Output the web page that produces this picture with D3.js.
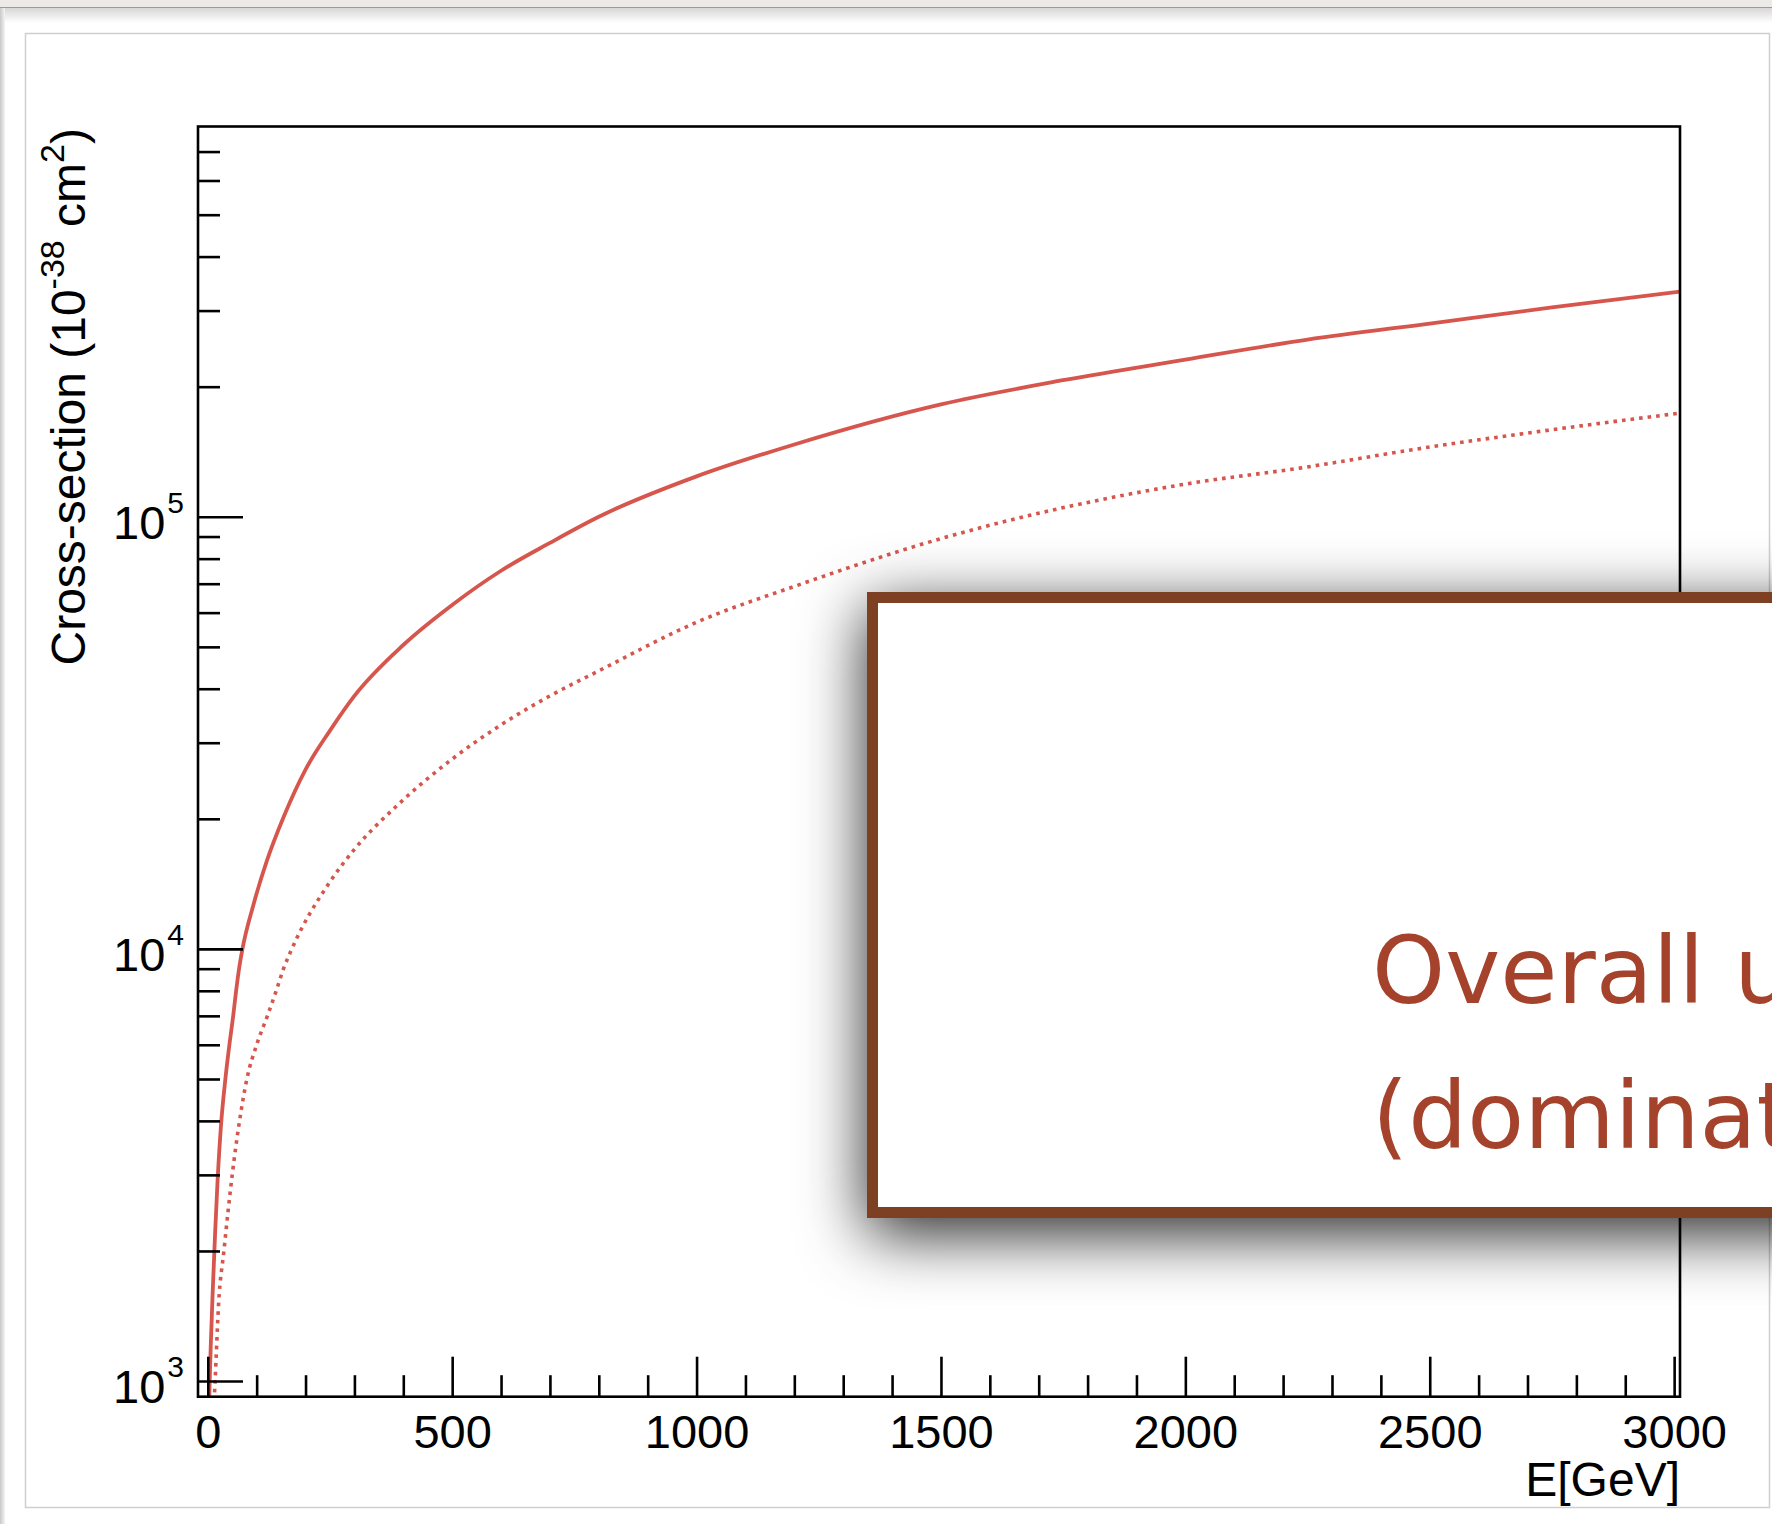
<!DOCTYPE html>
<html>
<head>
<meta charset="utf-8">
<script src="https://cdn.jsdelivr.net/npm/d3@7"></script>
<style>
  html, body { margin: 0; padding: 0; background: #fff; overflow: hidden; }
  svg { display: block; }
  .axis text { font-family: "Liberation Sans", Arial, Helvetica, sans-serif; }
</style>
</head>
<body>
<svg id="chart" width="1772" height="1524"></svg>
<script>
// values: energy in GeV, cross-section in 1e-38 cm^2
var energySolid = [3, 6, 10, 15, 20, 27, 36, 45, 52, 58, 64, 71, 93, 121, 156, 200, 250, 300, 400, 500,
                   600, 700, 800, 1000, 1200, 1500, 1750, 2000, 2250, 2500, 2750, 3012];
var xsecSolid   = [920, 1200, 1600, 2200, 2900, 3900, 5000, 6100, 7000, 8000, 9000, 10000, 12600, 16000, 20300, 26000, 32000, 38500, 50500, 62500,
                   75000, 87000, 100000, 124000, 147000, 182000, 207000, 231000, 257000, 280000, 305000, 332000];

var energyDotted = [13, 15, 22, 33, 50, 65, 80, 100, 122, 140, 155, 172, 250, 300, 388, 500,
                    600, 700, 800, 1000, 1200, 1500, 2000, 2234, 2500, 2750, 3012];
var xsecDotted   = [900, 1000, 1500, 2000, 3000, 4000, 5000, 6000, 7000, 8000, 9000, 10000, 14300, 17000, 21500, 27500,
                    33000, 38500, 44000, 57000, 69000, 89000, 119000, 129600, 145000, 159000, 173700];

var xMajor = [0, 500, 1000, 1500, 2000, 2500, 3000];
var xMinor = d3.range(100, 3001, 100).filter(function (v) { return v % 500 != 0; });
var yDecades = [1000, 10000, 100000];
var yExponents = ["3", "4", "5"];
var yMinor = [2e3, 3e3, 4e3, 5e3, 6e3, 7e3, 8e3, 9e3, 2e4, 3e4, 4e4, 5e4, 6e4, 7e4, 8e4, 9e4, 2e5, 3e5, 4e5, 5e5, 6e5, 7e5];

var xTitle = "E[GeV]";
var boxLines = ["Overall u", "(dominat"];

var svg = d3.select("#chart");
var W = 1772, H = 1524;

var frame = {left: 198, right: 1680, top: 126.5, bottom: 1396.7};

var x = d3.scaleLinear().domain([-20, 3012]).range([frame.left, frame.right]);
var y = d3.scaleLog().domain([920, 8.0e5]).range([frame.bottom, frame.top]);

var defs = svg.append("defs");

// window chrome gradients
var topGrad = defs.append("linearGradient").attr("id", "topGrad").attr("x1", 0).attr("y1", 0).attr("x2", 0).attr("y2", 1);
topGrad.append("stop").attr("offset", "0%").attr("stop-color", "#d4d4d4");
topGrad.append("stop").attr("offset", "100%").attr("stop-color", "#ffffff");
var leftGrad = defs.append("linearGradient").attr("id", "leftGrad").attr("x1", 0).attr("y1", 0).attr("x2", 1).attr("y2", 0);
leftGrad.append("stop").attr("offset", "0%").attr("stop-color", "#c8c8c8");
leftGrad.append("stop").attr("offset", "100%").attr("stop-color", "#f4f4f4");

defs.append("clipPath").attr("id", "plotClip")
    .append("rect")
    .attr("x", frame.left).attr("y", frame.top)
    .attr("width", frame.right - frame.left).attr("height", frame.bottom - frame.top);

var shadow = defs.append("filter").attr("id", "boxShadow")
    .attr("filterUnits", "userSpaceOnUse")
    .attr("x", 650).attr("y", 400).attr("width", 1300).attr("height", 1050);
shadow.append("feDropShadow")
    .attr("dx", 0).attr("dy", 16)
    .attr("stdDeviation", 32)
    .attr("flood-color", "#000").attr("flood-opacity", 0.85);

// window chrome
svg.append("rect").attr("x", 0).attr("y", 0).attr("width", W).attr("height", H).attr("fill", "#fff");
svg.append("rect").attr("x", 0).attr("y", 0).attr("width", W).attr("height", 7).attr("fill", "#ebeae6");
svg.append("rect").attr("x", 0).attr("y", 7).attr("width", W).attr("height", 16).attr("fill", "url(#topGrad)");
svg.append("line").attr("x1", 0).attr("x2", W).attr("y1", 7.5).attr("y2", 7.5).attr("stroke", "#9a9a9a").attr("stroke-width", 1.2);
svg.append("rect").attr("x", 0).attr("y", 8).attr("width", 5).attr("height", H - 8).attr("fill", "url(#leftGrad)");

// canvas
svg.append("rect")
    .attr("x", 25.5).attr("y", 33.5)
    .attr("width", 1769.5 - 25.5).attr("height", 1507.5 - 33.5)
    .attr("fill", "#fff").attr("stroke", "#cfcfcf").attr("stroke-width", 1.5);

// curves
var line = d3.line()
    .x(function (d) { return x(d[0]); })
    .y(function (d) { return y(d[1]); })
    .curve(d3.curveMonotoneX);

var plot = svg.append("g").attr("clip-path", "url(#plotClip)");

plot.append("path")
    .datum(d3.zip(energyDotted, xsecDotted))
    .attr("d", line)
    .attr("fill", "none")
    .attr("stroke", "#d6564d")
    .attr("stroke-width", 3.6)
    .attr("stroke-dasharray", "3.6,5");

plot.append("path")
    .datum(d3.zip(energySolid, xsecSolid))
    .attr("d", line)
    .attr("fill", "none")
    .attr("stroke", "#d6564d")
    .attr("stroke-width", 3.8);

// x axis ticks (inside, pointing up)
var xAxisMajor = d3.axisBottom(x).tickValues(xMajor).tickSize(-40).tickPadding(18)
    .tickFormat(d3.format("d"));
var gx = svg.append("g").attr("class", "axis")
    .attr("transform", "translate(0," + frame.bottom + ")")
    .call(xAxisMajor);
gx.select(".domain").remove();
gx.selectAll(".tick line").attr("stroke", "#000").attr("stroke-width", 2.6);
gx.selectAll(".tick text").attr("font-size", 47).attr("fill", "#000");

var gxMinor = svg.append("g")
    .attr("transform", "translate(0," + frame.bottom + ")")
    .call(d3.axisBottom(x).tickValues(xMinor).tickSize(-21.5).tickFormat(""));
gxMinor.select(".domain").remove();
gxMinor.selectAll(".tick line").attr("stroke", "#000").attr("stroke-width", 2.6);

// y axis ticks (inside, pointing right)
var gy = svg.append("g")
    .attr("transform", "translate(" + frame.left + ",0)")
    .call(d3.axisLeft(y).tickValues(yDecades).tickSize(-45).tickFormat(""));
gy.select(".domain").remove();
gy.selectAll(".tick line").attr("stroke", "#000").attr("stroke-width", 2.6);

var gyMinor = svg.append("g")
    .attr("transform", "translate(" + frame.left + ",0)")
    .call(d3.axisLeft(y).tickValues(yMinor).tickSize(-22).tickFormat(""));
gyMinor.select(".domain").remove();
gyMinor.selectAll(".tick line").attr("stroke", "#000").attr("stroke-width", 2.6);

// y tick labels 10^n
var yLab = svg.append("g").attr("class", "axis")
    .selectAll("text")
    .data(yDecades)
    .enter()
    .append("text")
    .attr("x", 184)
    .attr("y", function (d) { return y(d) + 22; })
    .attr("text-anchor", "end")
    .attr("font-size", 47)
    .attr("fill", "#000");
yLab.append("tspan").text("10");
yLab.append("tspan")
    .attr("font-size", 30)
    .attr("dy", -26)
    .attr("dx", 2)
    .text(function (d, i) { return yExponents[i]; });

// frame
svg.append("rect")
    .attr("x", frame.left).attr("y", frame.top)
    .attr("width", frame.right - frame.left).attr("height", frame.bottom - frame.top)
    .attr("fill", "none").attr("stroke", "#000").attr("stroke-width", 2.6);

// axis titles
svg.append("text").attr("class", "axis")
    .attr("x", frame.right).attr("y", 1496)
    .attr("text-anchor", "end")
    .attr("font-family", "'Liberation Sans', Arial, sans-serif")
    .attr("font-size", 48)
    .text(xTitle);

var yt = svg.append("text")
    .attr("transform", "translate(85," + 128 + ") rotate(-90)")
    .attr("text-anchor", "end")
    .attr("font-family", "'Liberation Sans', Arial, sans-serif")
    .attr("font-size", 48);
yt.append("tspan").text("Cross-section (10");
yt.append("tspan").attr("font-size", 34).attr("dy", -21).text("-38");
yt.append("tspan").attr("dy", 21).text(" cm");
yt.append("tspan").attr("font-size", 34).attr("dy", -21).text("2");
yt.append("tspan").attr("dy", 21).text(")");

// overlay box
svg.append("rect")
    .attr("x", 872.5).attr("y", 597.5)
    .attr("width", 1000).attr("height", 1212.5 - 597.5)
    .attr("fill", "#fff")
    .attr("stroke", "#7e3f20").attr("stroke-width", 11)
    .attr("filter", "url(#boxShadow)");

svg.append("g")
    .selectAll("text")
    .data(boxLines)
    .enter()
    .append("text")
    .attr("x", 1372)
    .attr("y", function (d, i) { return 1002.5 + i * 145.8; })
    .attr("font-family", "'DejaVu Sans', Verdana, sans-serif")
    .attr("font-size", 93)
    .attr("fill", "#a5422b")
    .text(function (d) { return d; });
</script>
</body>
</html>
